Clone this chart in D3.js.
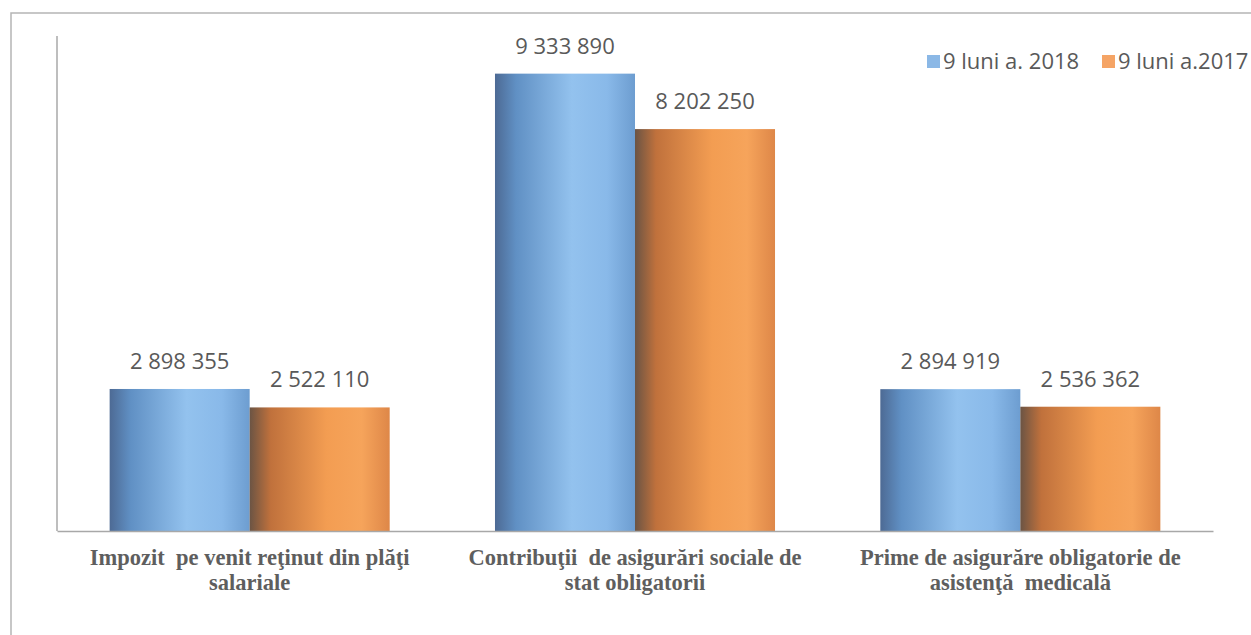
<!DOCTYPE html>
<html>
<head>
<meta charset="utf-8">
<script src="https://cdn.jsdelivr.net/npm/d3@7"></script>
<style>
  body { margin: 0; background: #fff; }
  .value { font-family: "Open Sans", sans-serif; font-size: 22px; fill: #595959; }
  .cat { font-family: "Liberation Serif", serif; font-weight: bold; font-size: 22.5px; fill: #5e5e5e; }
  .legend { font-family: "Open Sans", sans-serif; font-size: 22px; fill: #595959; }
</style>
</head>
<body>
<div class="chart"></div>
<script>
var categories = [
  ["Impozit  pe venit reţinut din plăţi", "salariale"],
  ["Contribuţii  de asigurări sociale de", "stat obligatorii"],
  ["Prime de asigurăre obligatorie de", "asistenţă  medicală"]
];
var seriesNames = ["9 luni a. 2018", "9 luni a.2017"];
var values2018 = [2898355, 9333890, 2894919];
var values2017 = [2522110, 8202250, 2536362];
var labels2018 = ["2 898 355", "9 333 890", "2 894 919"];
var labels2017 = ["2 522 110", "8 202 250", "2 536 362"];

var options = { width: 1251, height: 635 },
    plot = { left: 57, right: 1213, top: 41, bottom: 531 };

var svg = d3.select(".chart").append("svg")
    .attr("width", options.width)
    .attr("height", options.height);

var defs = svg.append("defs");
function gradient(id, stops) {
  var g = defs.append("linearGradient").attr("id", id)
      .attr("x1", "0%").attr("x2", "100%").attr("y1", "0%").attr("y2", "0%");
  stops.forEach(function(s) {
    g.append("stop").attr("offset", s[0]).attr("stop-color", s[1]);
  });
}
gradient("g2018", [[0, "#4d6a94"], [0.15, "#6090c4"], [0.55, "#93c2ee"], [0.8, "#89b9e9"], [1, "#6d9dd0"]]);
gradient("g2017", [[0, "#6b5444"], [0.15, "#c0713c"], [0.55, "#f39d52"], [0.8, "#f6a45b"], [1, "#de8748"]]);

// outer frame (scanned page border)
svg.append("path")
  .attr("d", "M11,635 L11,13 L1251,13")
  .attr("fill", "none")
  .attr("stroke", "#b5b5b5")
  .attr("stroke-width", 1.5);

var idx = d3.range(categories.length);
var x0 = d3.scaleBand().domain(idx).range([plot.left, plot.right]).paddingInner(0).paddingOuter(0);
var x1 = d3.scaleBand().domain([0, 1]).range([0, x0.bandwidth()]).paddingInner(0).paddingOuter(0.376);
var y = d3.scaleLinear().domain([0, 10000000]).range([plot.bottom, plot.top]);

var data = idx.map(function(i) {
  return [
    { s: 0, v: values2018[i], label: labels2018[i] },
    { s: 1, v: values2017[i], label: labels2017[i] }
  ];
});

var groups = svg.append("g").selectAll("g")
  .data(data)
  .enter().append("g")
    .attr("transform", function(d, i) { return "translate(" + x0(i) + ",0)"; });

groups.selectAll("rect")
  .data(function(d) { return d; })
  .enter().append("rect")
    .attr("x", function(d) { return x1(d.s); })
    .attr("y", function(d) { return y(d.v); })
    .attr("width", x1.bandwidth())
    .attr("height", function(d) { return y(0) - y(d.v); })
    .attr("fill", function(d) { return d.s === 0 ? "url(#g2018)" : "url(#g2017)"; });

groups.selectAll("text.value")
  .data(function(d) { return d; })
  .enter().append("text")
    .attr("class", "value")
    .attr("x", function(d) { return x1(d.s) + x1.bandwidth() / 2; })
    .attr("y", function(d) { return y(d.v) - 20; })
    .attr("text-anchor", "middle")
    .text(function(d) { return d.label; });

// axes
var yAxis = d3.axisLeft(y).tickValues([]).tickSizeOuter(0);
svg.append("g")
  .attr("class", "y axis")
  .attr("transform", "translate(" + plot.left + ",0)")
  .call(yAxis)
  .select(".domain")
    .attr("d", "M0," + (plot.top - 5) + "V" + plot.bottom)
    .attr("stroke", "#a8a8a8")
    .attr("stroke-width", 1.5);

var xAxis = d3.axisBottom(x0).tickSize(0).tickFormat("");
svg.append("g")
  .attr("class", "x axis")
  .attr("transform", "translate(0," + plot.bottom + ")")
  .call(xAxis)
  .select(".domain")
    .attr("stroke", "#a8a8a8")
    .attr("stroke-width", 1.5);

// category labels
var catText = svg.append("g").selectAll("text")
  .data(categories)
  .enter().append("text")
    .attr("class", "cat")
    .attr("text-anchor", "middle")
    .attr("x", function(d, i) { return x0(i) + x0.bandwidth() / 2; })
    .attr("y", 565)
    .style("white-space", "pre");
catText.selectAll("tspan")
  .data(function(d) { return d; })
  .enter().append("tspan")
    .attr("x", function() { return d3.select(this.parentNode).attr("x"); })
    .attr("dy", function(d, j) { return j === 0 ? 0 : 25; })
    .text(function(d) { return d; });

// legend
var legendX = [927, 1102];
var legend = svg.append("g").selectAll("g")
  .data(seriesNames)
  .enter().append("g")
    .attr("transform", function(d, i) { return "translate(" + legendX[i] + ",55)"; });
legend.append("rect")
  .attr("width", 13).attr("height", 13)
  .attr("fill", function(d, i) { return i === 0 ? "#8bb8e6" : "#f5a465"; });
legend.append("text")
  .attr("class", "legend")
  .attr("x", 16)
  .attr("y", 14)
  .text(function(d) { return d; });
</script>
</body>
</html>
